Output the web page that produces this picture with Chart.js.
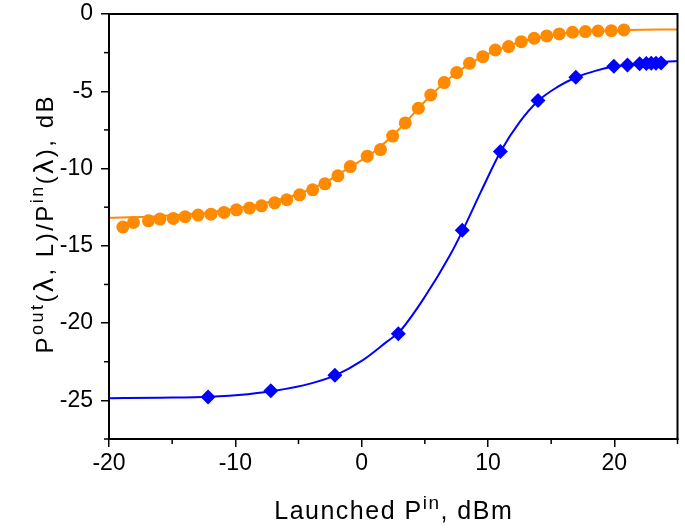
<!DOCTYPE html>
<html><head><meta charset="utf-8">
<script src="https://cdn.jsdelivr.net/npm/chart.js@4/dist/chart.umd.min.js"></script>
<style>html,body{margin:0;padding:0;background:#fff;}</style>
</head><body>
<canvas id="c" width="685" height="529" style="display:block;width:685px;height:529px"></canvas>
<script>
// ---- data ----
const orangeX = [-18.9,-18.06,-16.88,-15.96,-14.91,-13.97,-12.95,-11.93,-10.9,-9.91,-8.88,-7.92,-6.89,-5.93,-4.91,-3.88,-2.91,-1.88,-0.9,0.44,1.49,2.45,3.45,4.49,5.47,6.53,7.52,8.54,9.59,10.58,11.63,12.63,13.65,14.65,15.64,16.69,17.71,18.71,19.76,20.76];
const orangeY = [-13.79,-13.49,-13.38,-13.27,-13.23,-13.12,-13.01,-12.95,-12.84,-12.67,-12.56,-12.41,-12.22,-12.02,-11.7,-11.38,-10.99,-10.47,-9.87,-9.2,-8.77,-7.9,-7.05,-6.1,-5.24,-4.44,-3.79,-3.19,-2.76,-2.33,-2.11,-1.79,-1.57,-1.42,-1.29,-1.18,-1.14,-1.1,-1.08,-1.03];
const orangeFitX = [-20,-17,-14,-11,-8,-5,-3,-1,1,3,5,7,9,11,13,15,17,19,21,25];
const orangeFitY = [-13.19,-13.12,-12.98,-12.72,-12.3,-11.65,-10.95,-9.95,-8.9,-7.43,-5.66,-4.13,-3.0,-2.24,-1.71,-1.38,-1.17,-1.09,-1.04,-1.0];
const blueX = [-12.16,-7.19,-2.12,2.9,7.96,10.98,13.96,16.95,19.96,21.04,22.0,22.53,22.92,23.3,23.7];
const blueY = [-24.78,-24.37,-23.38,-20.69,-14.0,-8.9,-5.6,-4.09,-3.38,-3.3,-3.22,-3.2,-3.19,-3.18,-3.17];
const blueFitX = [-20,-16,-12,-9,-7,-4,-2,0,2,3,5,7,8,9.5,11,12.5,14,15.5,17,18.5,20,22,25];
const blueFitY = [-24.86,-24.83,-24.77,-24.6,-24.4,-23.9,-23.35,-22.45,-21.2,-20.55,-18.3,-15.6,-14.0,-11.4,-8.9,-7.0,-5.6,-4.72,-4.09,-3.68,-3.4,-3.22,-3.04];
const xMinorTicks = [-15,-5,5,15,25];
const yMinorTicks = [-2.5,-7.5,-12.5,-17.5,-22.5,-27.5];
// title pieces: 0 = normal, 1 = superscript, 2 = enlarged symbol
const xTitleParts = [["Launched P",0],["in",1],[", dBm",0]];
const yTitleParts = [["P",0],["out",1],["(",0],["\u03BB",2],[", L)/P",0],["in",1],["(",0],["\u03BB",2],["), dB",0]];

const pts = (xs, ys) => xs.map((v,i)=>({x:v, y:ys[i]}));
const FONT = "'Liberation Sans', Arial, sans-serif";

function drawRich(ctx, parts, cx, cy, size, ls, supRatio){
  const sizeOf = s => s===1 ? Math.round(size*supRatio) : (s===2 ? Math.round(size*1.15) : size);
  const chars = [];
  parts.forEach(([t,s])=>{ for (const ch of t) chars.push([ch,s]); });
  let total = 0;
  chars.forEach(([ch,s],i)=>{ ctx.font = sizeOf(s)+"px "+FONT; total += ctx.measureText(ch).width + (i<chars.length-1?ls:0); });
  let x = cx - total/2;
  ctx.textBaseline = 'alphabetic'; ctx.textAlign='left'; ctx.fillStyle='#000';
  chars.forEach(([ch,s])=>{
    ctx.font = sizeOf(s)+"px "+FONT;
    ctx.fillText(ch, x, s===1 ? cy - size*0.40 : cy);
    x += ctx.measureText(ch).width + ls;
  });
}

const framePlugin = {
  id:'frame',
  afterDraw(chart){
    const {ctx, chartArea:a, scales:{x,y}} = chart;
    ctx.save();
    ctx.strokeStyle='#000';
    ctx.lineWidth=2;
    ctx.strokeRect(a.left, a.top, a.right-a.left, a.bottom-a.top);
    ctx.lineWidth=1.5;
    xMinorTicks.forEach(v=>{const p=x.getPixelForValue(v); ctx.beginPath(); ctx.moveTo(p,a.bottom); ctx.lineTo(p,a.bottom+5); ctx.stroke();});
    yMinorTicks.forEach(v=>{const p=y.getPixelForValue(v); ctx.beginPath(); ctx.moveTo(a.left,p); ctx.lineTo(a.left-5,p); ctx.stroke();});
    drawRich(ctx, xTitleParts, 393, 519, 25, 1.5, 0.75);
    ctx.translate(53, 225);
    ctx.rotate(-Math.PI/2);
    drawRich(ctx, yTitleParts, 0, 0, 24, 2.5, 0.75);
    ctx.restore();
  }
};

new Chart(document.getElementById('c'), {
  type:'scatter',
  data:{datasets:[
    {label:'orange data', data:pts(orangeX,orangeY), showLine:false, pointStyle:'circle', pointRadius:6.5, pointHoverRadius:6.5, backgroundColor:'#FF8A00', borderColor:'#FF8A00', borderWidth:0, order:0},
    {label:'blue data', data:pts(blueX,blueY), showLine:false, pointStyle:'rectRot', pointRadius:7.5, pointHoverRadius:7.5, backgroundColor:'#0000FF', borderColor:'#0000FF', borderWidth:0, order:0},
    {label:'orange fit', data:pts(orangeFitX,orangeFitY), showLine:true, pointRadius:0, borderColor:'#FF8A00', borderWidth:2, cubicInterpolationMode:'monotone', order:1},
    {label:'blue fit', data:pts(blueFitX,blueFitY), showLine:true, pointRadius:0, borderColor:'#0000FF', borderWidth:2, cubicInterpolationMode:'monotone', order:1}
  ]},
  options:{
    responsive:false, animation:false, devicePixelRatio:1,
    layout:{padding:{top:14,right:3,left:0,bottom:0}},
    plugins:{legend:{display:false}, tooltip:{enabled:false}},
    scales:{
      x:{type:'linear', min:-20, max:25,
        ticks:{stepSize:10, includeBounds:false, color:'#000', font:{family:FONT, size:23}, padding:3, maxRotation:0},
        grid:{display:true, drawOnChartArea:false, drawTicks:true, tickLength:8, color:'#000', lineWidth:1.5},
        border:{display:true, color:'#000', width:2},
        afterFit:(s)=>{s.height=90; s.paddingLeft=0; s.paddingRight=0;}
      },
      y:{type:'linear', min:-27.5, max:0,
        ticks:{stepSize:5, includeBounds:false, color:'#000', font:{family:FONT, size:23}, padding:8},
        grid:{display:true, drawOnChartArea:false, drawTicks:true, tickLength:8, color:'#000', lineWidth:1.5},
        border:{display:true, color:'#000', width:2},
        afterFit:(s)=>{s.width=109; s.paddingTop=0; s.paddingBottom=0;}
      }
    }
  },
  plugins:[framePlugin]
});
</script>
</body></html>
